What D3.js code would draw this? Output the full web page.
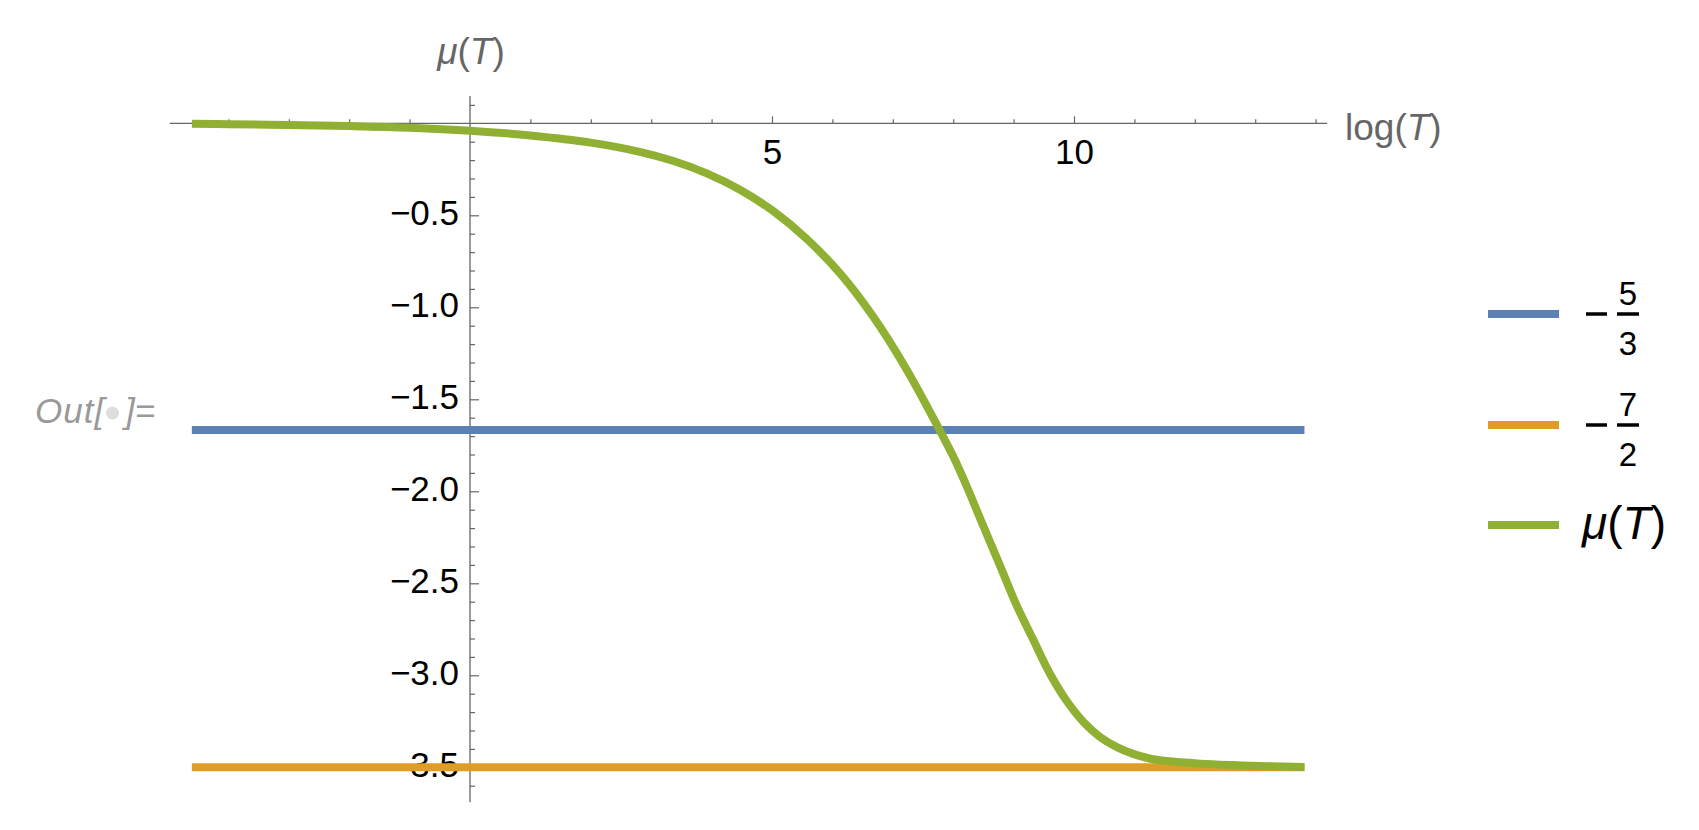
<!DOCTYPE html>
<html>
<head>
<meta charset="utf-8">
<script src="https://cdn.jsdelivr.net/npm/d3@7"></script>
<style>
  body { margin: 0; background: #fff; }
  text { font-family: "Liberation Sans", Arial, sans-serif; }
</style>
</head>
<body>
<div id="canvas"></div>
<script>
// data
const logT = [-4.605, -4, -3, -2, -1, 0, 1, 2, 2.81, 3.37, 3.92, 4.47, 5.02, 5.57, 6.13, 6.68, 7.23, 7.78,
  8.0, 8.22, 8.5, 8.77, 9.05, 9.33, 9.6, 9.88, 10.16, 10.43, 10.71, 10.98, 11.25, 11.53, 12.09, 12.64, 13.2, 13.8155];
const muT = [-0.003, -0.005, -0.009, -0.015, -0.024, -0.040, -0.066, -0.105, -0.155, -0.205, -0.272, -0.361, -0.477, -0.627, -0.817, -1.053, -1.339, -1.670,
  -1.81, -1.97, -2.19, -2.40, -2.62, -2.81, -2.99, -3.14, -3.255, -3.335, -3.39, -3.427, -3.452, -3.466, -3.480, -3.488, -3.494, -3.498];
const levels = [-5 / 3, -7 / 2];
const levelNames = [['5', '3'], ['7', '2']];
const seriesColors = ['#5E81B5', '#E19C24', '#8FB032'];
const xMajorTicks = [5, 10];
const xMinorTicks = [-4, -3, -2, -1, 1, 2, 3, 4, 6, 7, 8, 9, 11, 12, 13, 14];
const yMajorTicks = [-0.5, -1.0, -1.5, -2.0, -2.5, -3.0, -3.5];
const yMinorTicks = d3.range(1, -37, -1).map(d => d / 10).filter(d => d !== 0 && !yMajorTicks.includes(d));
const xAxisExtent = [-4.97, 14.19];
const yAxisExtent = [0.148, -3.69];

const width = 1699, height = 830;

const svg = d3.select('#canvas')
  .append('svg')
  .attr('width', width)
  .attr('height', height)
  .style('display', 'block');

svg.append('rect').attr('width', width).attr('height', height).attr('fill', '#fff');

// scales
const x = d3.scaleLinear().domain([0, 10]).range([470, 1074]);
const y = d3.scaleLinear().domain([0, -3.5]).range([123.3, 767.3]);

const axisColor = '#666';

// x axis
const xAxisGroup = svg.append('g').attr('transform', `translate(0, ${y(0)})`);
xAxisGroup.call(d3.axisBottom(x).tickValues(xMinorTicks).tickSizeInner(-4).tickSizeOuter(0).tickFormat(''));
xAxisGroup.append('g').call(d3.axisBottom(x).tickValues(xMajorTicks).tickSizeInner(-7).tickSizeOuter(0).tickPadding(16));
xAxisGroup.selectAll('.domain').remove();
xAxisGroup.append('line')
  .attr('x1', x(xAxisExtent[0])).attr('x2', x(xAxisExtent[1]))
  .attr('stroke', axisColor).attr('stroke-width', 1.3);

// y axis
const yAxisGroup = svg.append('g').attr('transform', `translate(${x(0)}, 0)`);
yAxisGroup.call(d3.axisLeft(y).tickValues(yMinorTicks).tickSizeInner(-5).tickSizeOuter(0).tickFormat(''));
yAxisGroup.append('g').call(d3.axisLeft(y).tickValues(yMajorTicks).tickSizeInner(-9).tickSizeOuter(0).tickPadding(11).tickFormat(d3.format('.1f')));
yAxisGroup.selectAll('.domain').remove();
yAxisGroup.append('line')
  .attr('y1', y(yAxisExtent[0])).attr('y2', y(yAxisExtent[1]))
  .attr('stroke', axisColor).attr('stroke-width', 1.3);
yAxisGroup.selectAll('.tick text').attr('dy', '0.26em');

svg.selectAll('.tick line').attr('stroke', axisColor).attr('stroke-width', 1.2);
svg.selectAll('.tick text')
  .attr('fill', '#000')
  .style('font-size', '35px')
  .style('font-family', '"Liberation Sans", Arial, sans-serif');

// axis labels
const muLabel = (sel) => {
  sel.append('tspan').attr('font-style', 'italic').text('μ');
  sel.append('tspan').text('(');
  sel.append('tspan').attr('font-style', 'italic').text('T');
  sel.append('tspan').text(')');
};
svg.append('text')
  .attr('x', x(0) + 1).attr('y', 64)
  .attr('text-anchor', 'middle')
  .attr('fill', axisColor)
  .style('font-size', '37px')
  .call(muLabel);

const logLabel = svg.append('text')
  .attr('x', 1345).attr('y', 140)
  .attr('fill', axisColor)
  .style('font-size', '37px');
logLabel.append('tspan').text('log(');
logLabel.append('tspan').attr('font-style', 'italic').text('T');
logLabel.append('tspan').text(')');

// Out[ ]= cell label
const outLabel = svg.append('g');
outLabel.append('text')
  .attr('x', 35).attr('y', 423)
  .attr('fill', '#999')
  .attr('font-style', 'italic')
  .style('font-size', '35px')
  .style('letter-spacing', '1px')
  .text('Out[');
outLabel.append('circle')
  .attr('cx', 112.5).attr('cy', 413).attr('r', 6.5)
  .attr('fill', '#ddd');
outLabel.append('text')
  .attr('x', 125).attr('y', 423)
  .attr('fill', '#999')
  .attr('font-style', 'italic')
  .style('font-size', '35px')
  .text(']=');

// horizontal reference levels
const xSpan = d3.extent(logT);
svg.selectAll('.level')
  .data(levels)
  .enter()
  .append('line')
    .attr('class', 'level')
    .attr('x1', x(xSpan[0]))
    .attr('x2', x(xSpan[1]))
    .attr('y1', d => y(d))
    .attr('y2', d => y(d))
    .attr('stroke', (d, i) => seriesColors[i])
    .attr('stroke-width', 8);

// mu(T) curve
const line = d3.line()
  .curve(d3.curveCatmullRom.alpha(0.5))
  .x(d => x(d[0]))
  .y(d => y(d[1]));

svg.append('path')
  .datum(logT.map((t, i) => [t, muT[i]]))
  .attr('fill', 'none')
  .attr('stroke', seriesColors[2])
  .attr('stroke-width', 8)
  .attr('d', line);

// legend
const legendY = [314, 425, 525];
const legend = svg.append('g');
legendY.forEach((ly, i) => {
  legend.append('line')
    .attr('x1', 1488).attr('x2', 1559)
    .attr('y1', ly).attr('y2', ly)
    .attr('stroke', seriesColors[i])
    .attr('stroke-width', 8);
});
levelNames.forEach((frac, i) => {
  const ly = legendY[i];
  // minus sign
  legend.append('line')
    .attr('x1', 1586).attr('x2', 1607)
    .attr('y1', ly).attr('y2', ly)
    .attr('stroke', '#000').attr('stroke-width', 3.5);
  // fraction bar
  legend.append('line')
    .attr('x1', 1617).attr('x2', 1639)
    .attr('y1', ly).attr('y2', ly)
    .attr('stroke', '#000').attr('stroke-width', 3.5);
  legend.append('text')
    .attr('x', 1628).attr('y', ly - 9)
    .attr('text-anchor', 'middle')
    .style('font-size', '33px')
    .text(frac[0]);
  legend.append('text')
    .attr('x', 1628).attr('y', ly + 41)
    .attr('text-anchor', 'middle')
    .style('font-size', '33px')
    .text(frac[1]);
});
legend.append('text')
  .attr('x', 1582).attr('y', 539)
  .attr('fill', '#000')
  .style('font-size', '46px')
  .call(muLabel);
</script>
</body>
</html>
